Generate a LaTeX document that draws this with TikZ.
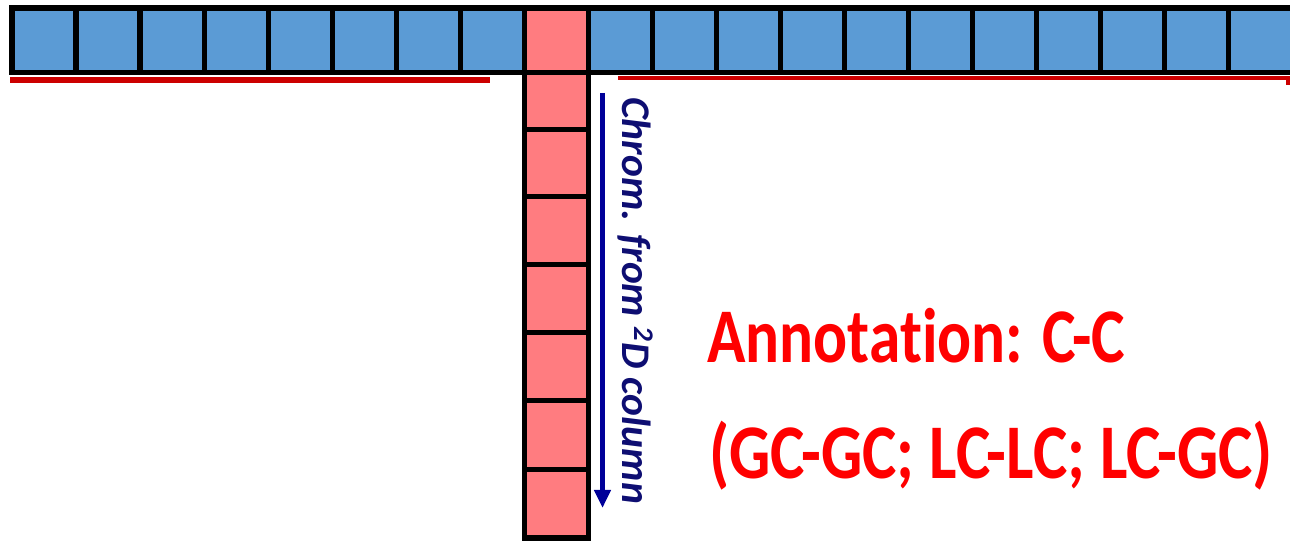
\documentclass[tikz,border=0pt]{standalone}
\usepackage{fontspec}
\usepackage{graphicx}
\setmainfont{Carlito}[Ligatures={NoCommon}]
\usetikzlibrary{arrows.meta}
\definecolor{cellblue}{HTML}{5B9BD5}
\definecolor{cellred}{HTML}{FF7C80}
\definecolor{lineRed}{HTML}{CC0000}
\definecolor{navyA}{HTML}{000099}
\definecolor{navyT}{HTML}{0E0E72}
\definecolor{annRed}{HTML}{FF0000}
\begin{document}
\begin{tikzpicture}[x=0.75pt,y=-0.75pt,
  bluecell/.style={fill=cellblue,draw=black,line width=4pt},
  redcell/.style={fill=cellred,draw=black,line width=4pt},
  underline/.style={draw=lineRed,line width=4.2pt},
  ann/.style={text=annRed,font=\bfseries,inner sep=0pt,anchor=base west}]
\useasboundingbox (0,0) rectangle (1290,541);
\begin{scope}
\clip (0,0) rectangle (1290,541);
\foreach \i in {0,...,7}
  \path[bluecell] ({12+64.0625*\i},8) rectangle ({12+64.0625*(\i+1)},72.5);
\path[redcell] (524.5,8) rectangle (588.5,72.5);
\foreach \i in {0,...,10}
  \path[bluecell] ({588.5+64*\i},8) rectangle ({588.5+64*(\i+1)},72.5);
\foreach \a/\b in {72.5/129.5,129.5/196.5,196.5/264.5,264.5/332.5,332.5/400.5,400.5/469.5,469.5/538}
  \path[redcell] (524.5,\a) rectangle (588.5,\b);
\end{scope}
% underlines
\coordinate (ulA) at (10,80);
\coordinate (ulB) at (490,80);
\draw[underline] (ulA) -- (ulB);
\coordinate (urA) at (618,78);
\coordinate (urB) at (1288,78);
\coordinate (urC) at (1288,85);
\draw[underline,line width=3.2pt] (urA) -- (urB) -- (urC);
% arrow
\coordinate (arS) at (602.5,93);
\coordinate (arE) at (602.5,508);
\draw[navyA,line width=3.75pt,-{Triangle[width=12pt,length=13.5pt]}] (arS) -- (arE);
% texts
\node[rotate=-90,anchor=base west,inner sep=0pt,text=navyT,font=\bfseries\itshape] (chrom) at (622,97)
  {\resizebox{305pt}{\height}{\fontsize{30.5pt}{31pt}\selectfont Chrom. from \textsuperscript{2}D column}};
\node[ann] (annA) at (707,363)
  {\resizebox{313.5pt}{\height}{\fontsize{58pt}{60pt}\selectfont Annotation: C-C}};
\node[ann] (annB) at (709,479)
  {\resizebox{423pt}{\height}{\fontsize{58pt}{60pt}\selectfont (GC-GC; LC-LC; LC-GC)}};
\end{tikzpicture}
\end{document}
